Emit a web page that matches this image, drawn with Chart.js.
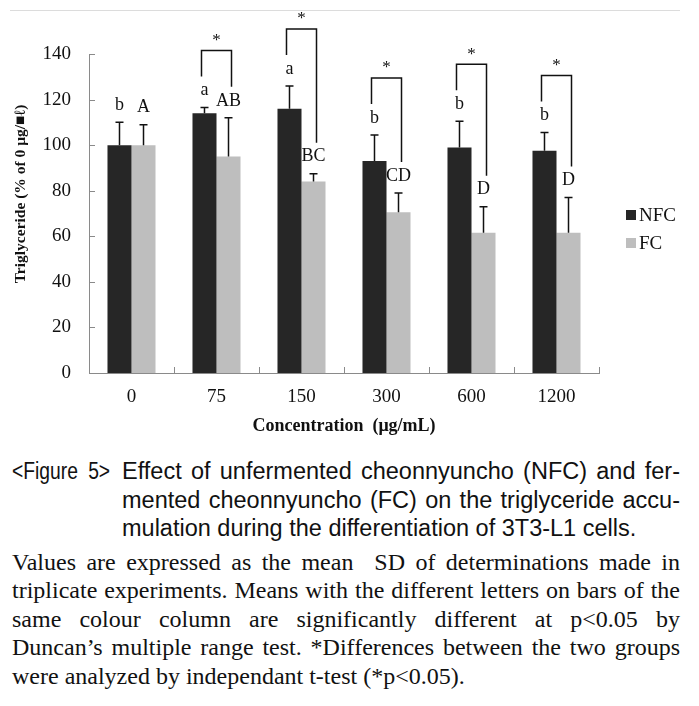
<!DOCTYPE html>
<html lang="en">
<head>
<meta charset="UTF-8">
<title>Figure 5 - Triglyceride accumulation</title>
<script src="https://cdn.jsdelivr.net/npm/chart.js"></script>
<style>
  body { margin: 0; background: #fff; }
  #wrap { position: relative; width: 699px; height: 706px; overflow: hidden; }
  .rule { position: absolute; top: 10px; left: 10px; width: 670px; height: 1px; background: #dcdcdc; }
  .chart-box { position: absolute; top: 0; left: 0; width: 699px; height: 445px; }
  .caption { position: absolute; top: 457px; left: 12px; width: 668px; color: #111; }
  .fig { display: flex; font-family: "Liberation Sans", Arial, sans-serif; font-size: 23.5px; line-height: 28.5px; }
  .fig .lab { width: 110px; flex: none; white-space: nowrap; }
  .fig .lab span { display: inline-block; transform: scaleX(0.82); transform-origin: 0 0; word-spacing: 6px; }
  .fig .txt { flex: 1; }
  .note { margin-top: 5px; font-family: "Liberation Serif", "Times New Roman", serif; font-size: 24px; line-height: 28.5px; }
  .j { text-align: justify; text-align-last: justify; }
</style>
</head>
<body>
<div id="wrap">
  <div class="rule"></div>
  <div class="chart-box"><canvas id="tgChart"></canvas></div>
  <div class="caption">
    <div class="fig">
      <div class="lab"><span>&lt;Figure 5&gt;</span></div>
      <div class="txt">
        <div class="j">Effect of unfermented cheonnyuncho (NFC) and fer-</div>
        <div class="j">mented cheonnyuncho (FC) on the triglyceride accu-</div>
        <div>mulation during the differentiation of 3T3-L1 cells.</div>
      </div>
    </div>
    <div class="note">
      <div class="j">Values are expressed as the mean&nbsp; SD of determinations made in</div>
      <div class="j">triplicate experiments. Means with the different letters on bars of the</div>
      <div class="j">same colour column are significantly different at p&lt;0.05 by</div>
      <div class="j">Duncan’s multiple range test. *Differences between the two groups</div>
      <div>were analyzed by independant t-test (*p&lt;0.05).</div>
    </div>
  </div>
</div>

<script>
const concentrations = ['0', '75', '150', '300', '600', '1200'];
const nfcMean = [100, 114, 116, 93, 99, 97.5];
const nfcSD = [10, 2.5, 10, 11.5, 11.5, 8];
const fcMean = [100, 95, 84, 70.5, 61.5, 61.5];
const fcSD = [9, 17, 3.5, 8.5, 11.5, 15.5];
const nfcLetters = ['b', 'a', 'a', 'b', 'b', 'b'];
const fcLetters = ['A', 'AB', 'BC', 'CD', 'D', 'D'];
const significant = [false, true, true, true, true, true];
const yTicks = [0, 20, 40, 60, 80, 100, 120, 140];

const serif = '"Liberation Serif", "Times New Roman", serif';
const nfcColor = '#262626';
const fcColor = '#bebebe';
const axisColor = '#8a8a8a';

// error bars, group letters, significance brackets, inner ticks, legend, y title
const annotate = {
    id: 'annotate',
    afterDatasetsDraw(chart) {
        const { ctx, chartArea, scales: { x, y } } = chart;
        const nfcBars = chart.getDatasetMeta(0).data;
        const fcBars = chart.getDatasetMeta(1).data;

        ctx.save();
        // inward tick marks
        ctx.strokeStyle = axisColor;
        ctx.lineWidth = 1;
        y.ticks.forEach(t => {
            const py = Math.round(y.getPixelForValue(t.value)) + 0.5;
            ctx.beginPath();
            ctx.moveTo(chartArea.left, py);
            ctx.lineTo(chartArea.left + 6, py);
            ctx.stroke();
        });
        const step = (chartArea.right - chartArea.left) / concentrations.length;
        for (let i = 1; i <= concentrations.length; i++) {
            const px = Math.round(chartArea.left + step * i) + 0.5;
            ctx.beginPath();
            ctx.moveTo(px, chartArea.bottom);
            ctx.lineTo(px, chartArea.bottom - 6);
            ctx.stroke();
        }

        // error bars + letters
        ctx.strokeStyle = '#111';
        ctx.fillStyle = '#111';
        ctx.lineWidth = 1.5;
        ctx.font = '18px ' + serif;
        ctx.textAlign = 'center';
        ctx.textBaseline = 'middle';
        const letterY = [[], []];
        [[nfcBars, nfcMean, nfcSD, nfcLetters], [fcBars, fcMean, fcSD, fcLetters]].forEach(([bars, mean, sd, letters], s) => {
            bars.forEach((bar, i) => {
                const top = y.getPixelForValue(mean[i]);
                const end = y.getPixelForValue(mean[i] + sd[i]);
                ctx.beginPath();
                ctx.moveTo(bar.x, top);
                ctx.lineTo(bar.x, end);
                ctx.moveTo(bar.x - 4, end);
                ctx.lineTo(bar.x + 4, end);
                ctx.stroke();
                const ly = end - 17;
                letterY[s].push(ly);
                ctx.fillText(letters[i], bar.x, ly);
            });
        });

        // significance brackets
        ctx.font = '17px ' + serif;
        significant.forEach((sig, i) => {
            if (!sig) return;
            const lx = nfcBars[i].x - 3;
            const rx = fcBars[i].x + 3;
            const lEnd = letterY[0][i] - 14;
            const rEnd = letterY[1][i] - 14;
            const top = Math.min(lEnd, rEnd) - 26;
            ctx.beginPath();
            ctx.moveTo(lx, lEnd);
            ctx.lineTo(lx, top);
            ctx.lineTo(rx, top);
            ctx.lineTo(rx, rEnd);
            ctx.stroke();
            ctx.fillText('*', (lx + rx) / 2, top - 10);
        });

        // legend
        ctx.font = '19px ' + serif;
        ctx.textAlign = 'left';
        [['NFC', nfcColor], ['FC', fcColor]].forEach(([label, color], k) => {
            const cy = chartArea.top + 161 + k * 28;
            ctx.fillStyle = color;
            ctx.fillRect(chartArea.right + 27, cy - 5, 10, 10);
            ctx.fillStyle = '#111';
            ctx.fillText(label, chartArea.right + 40, cy + 1);
        });

        // y axis title
        ctx.translate(21, 194);
        ctx.rotate(-Math.PI / 2);
        ctx.font = 'bold 15.5px ' + serif;
        ctx.textAlign = 'center';
        ctx.fillText('Triglyceride (% of 0 μg/■ℓ)', 0, 0);
        ctx.restore();
    }
};

new Chart(document.getElementById('tgChart'), {
    type: 'bar',
    data: {
        labels: concentrations,
        datasets: [
            { label: 'NFC', data: nfcMean, backgroundColor: nfcColor, borderWidth: 0 },
            { label: 'FC', data: fcMean, backgroundColor: fcColor, borderWidth: 0 }
        ]
    },
    options: {
        responsive: true,
        maintainAspectRatio: false,
        animation: false,
        layout: { padding: { top: 54, right: 100, bottom: 8, left: 0 } },
        datasets: { bar: { barPercentage: 1, categoryPercentage: 0.565 } },
        plugins: { legend: { display: false }, tooltip: { enabled: false } },
        scales: {
            x: {
                grid: { display: false, drawTicks: false },
                border: { display: true, color: axisColor, width: 1 },
                ticks: { color: '#111', font: { family: serif, size: 19 }, padding: 13 },
                title: { display: true, text: 'Concentration  (μg/mL)', color: '#111', padding: 0,
                         font: { family: serif, size: 18, weight: 'bold' } },
                afterFit(scale) { scale.height = 64; }
            },
            y: {
                min: 0,
                max: 140,
                afterBuildTicks(scale) { scale.ticks = yTicks.map(v => ({ value: v })); },
                grid: { display: false, drawTicks: false },
                border: { display: true, color: axisColor, width: 1 },
                ticks: { color: '#111', font: { family: serif, size: 19 }, padding: 18 },
                afterFit(scale) { scale.width = 89; }
            }
        }
    },
    plugins: [annotate]
});
</script>
</body>
</html>
